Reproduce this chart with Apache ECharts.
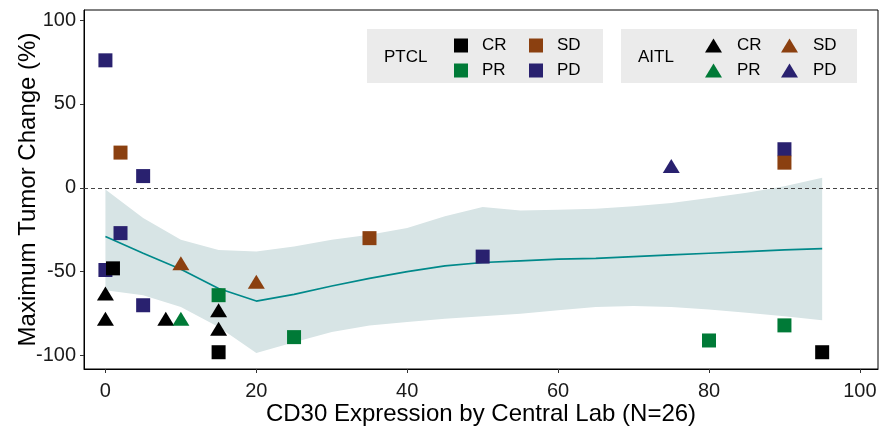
<!DOCTYPE html>
<html>
<head>
<meta charset="utf-8">
<script src="https://cdn.jsdelivr.net/npm/echarts@6/dist/echarts.min.js"></script>
<style>
html, body { margin: 0; padding: 0; background: #fff; }
#main { width: 879px; height: 430px; }
</style>
</head>
<body>
<div id="main"></div>
<script>
// PTCL patients (squares): [CD30 %, max tumor change %]
var ptcl_PD = [[0, 76], [5, 7], [2, -27], [0, -49], [5, -70], [50, -41], [90, 23]];
var ptcl_SD = [[2, 21], [35, -30], [90, 15]];
var ptcl_PR = [[15, -64], [25, -89], [80, -91], [90, -82]];
var ptcl_CR = [[1, -48], [15, -98], [95, -98]];

// AITL patients (triangles)
var aitl_CR = [[0, -63], [0, -78], [8, -78], [15, -73], [15, -84]];
var aitl_PR = [[10, -78]];
var aitl_SD = [[10, -45], [20, -56]];
var aitl_PD = [[75, 13]];

// smoother
var fit_x  = [0, 5, 10, 15, 20, 25, 30, 35, 40, 45, 50, 55, 60, 65, 70, 75, 80, 85, 90, 95];
var fit_y  = [-29, -39, -48.5, -60, -67.5, -63.5, -58.5, -54, -50, -46.5, -44.5, -43.5, -42.5, -42, -41, -40, -39, -38, -37, -36.3];
var fit_hi = [-1, -18, -31, -37, -38, -35, -31, -28, -24, -17, -11.5, -13.5, -13, -12.5, -11, -9, -6, -3, 1, 6];
var fit_lo = [-61, -64, -71, -83, -98.5, -92, -86, -82, -80, -78, -76.5, -75, -73, -71, -70.5, -71, -72.5, -74.5, -76.5, -79];

var x_ticks = [0, 20, 40, 60, 80, 100];
var y_ticks = [-100, -50, 0, 50, 100];

var colors = { CR: '#000000', PR: '#007a37', SD: '#8b4010', PD: '#29216f' };

var chart = echarts.init(document.getElementById('main'));
var font = 'Liberation Sans, Arial, sans-serif';

function sq(name, data, color) {
  return { name: name, type: 'scatter', symbol: 'rect', symbolSize: 14, data: data,
    itemStyle: { color: color, opacity: 1 }, z: 3, silent: true };
}
function tri(name, data, color) {
  return { name: name, type: 'scatter', symbol: 'triangle', symbolSize: [17, 14], data: data,
    itemStyle: { color: color, opacity: 1 }, z: 3, silent: true };
}
function legendCol(left, names, w, pad) {
  return {
    orient: 'vertical', left: left, top: 37, padding: 0, itemWidth: w, itemHeight: 14, itemGap: 8,
    selectedMode: false, data: names,
    formatter: function (n) { return n.split(' ')[1]; },
    textStyle: { fontSize: 17, color: '#000', lineHeight: 14, padding: [0, 0, 0, pad], fontFamily: font }
  };
}

chart.setOption({
  animation: false,
  textStyle: { fontFamily: font },
  grid: { left: 84, right: 1, top: 10, bottom: 61, outerBoundsMode: 'none', containLabel: false,
    show: true, borderColor: '#000', borderWidth: 1, backgroundColor: 'transparent' },
  xAxis: {
    type: 'value', min: -2.84, max: 102.4,
    name: 'CD30 Expression by Central Lab (N=26)', nameLocation: 'middle', nameGap: 33, nameMoveOverlap: false,
    nameTextStyle: { fontSize: 24, color: '#000', fontFamily: font },
    axisLine: { show: true, onZero: false, lineStyle: { color: '#000', width: 1 } },
    axisTick: { show: true, length: 4, lineStyle: { color: '#333' }, customValues: x_ticks },
    axisLabel: { fontSize: 20, color: '#1a1a1a', margin: 12, customValues: x_ticks, fontFamily: font },
    splitLine: { show: false }
  },
  yAxis: {
    type: 'value', min: -108, max: 106,
    name: 'Maximum Tumor Change (%)', nameLocation: 'middle', nameGap: 44, nameMoveOverlap: false,
    nameTextStyle: { fontSize: 24, color: '#000', fontFamily: font },
    axisLine: { show: true, onZero: false, lineStyle: { color: '#000', width: 1 } },
    axisTick: { show: true, length: 4, lineStyle: { color: '#333' }, customValues: y_ticks },
    axisLabel: { fontSize: 20, color: '#1a1a1a', margin: 8, customValues: y_ticks, fontFamily: font },
    splitLine: { show: false }
  },
  legend: [
    legendCol(454, ['PTCL CR', 'PTCL PR'], 14, 9),
    legendCol(529, ['PTCL SD', 'PTCL PD'], 14, 9),
    legendCol(705, ['AITL CR', 'AITL PR'], 17, 10),
    legendCol(781, ['AITL SD', 'AITL PD'], 17, 10)
  ],
  graphic: [
    { type: 'rect', left: 367, top: 29, z: -10, shape: { width: 236, height: 54 }, style: { fill: '#ebebeb' } },
    { type: 'rect', left: 621, top: 29, z: -10, shape: { width: 236, height: 54 }, style: { fill: '#ebebeb' } },
    { type: 'text', left: 384, top: 49, style: { text: 'PTCL', fill: '#000', font: '17px ' + font } },
    { type: 'text', left: 638, top: 49, style: { text: 'AITL', fill: '#000', font: '17px ' + font } }
  ],
  series: [
    {
      type: 'custom', silent: true, z: 1,
      data: fit_x.map(function (x, i) { return [x, fit_lo[i], fit_hi[i]]; }),
      encode: { x: 0, y: [1, 2] },
      renderItem: function (params, api) {
        if (params.dataIndex !== 0) return;
        var pts = [];
        for (var i = 0; i < fit_x.length; i++) pts.push(api.coord([fit_x[i], fit_hi[i]]));
        for (var j = fit_x.length - 1; j >= 0; j--) pts.push(api.coord([fit_x[j], fit_lo[j]]));
        return { type: 'polygon', shape: { points: pts }, style: { fill: '#d7e4e5' } };
      }
    },
    {
      type: 'line', silent: true, z: 2, showSymbol: false,
      data: fit_x.map(function (x, i) { return [x, fit_y[i]]; }),
      lineStyle: { color: '#00898a', width: 1.7 },
      markLine: {
        silent: true, symbol: 'none', label: { show: false },
        lineStyle: { color: '#444', type: [4, 3], width: 1 },
        data: [{ yAxis: 0 }]
      }
    },
    sq('PTCL PD', ptcl_PD, colors.PD),
    sq('PTCL SD', ptcl_SD, colors.SD),
    sq('PTCL PR', ptcl_PR, colors.PR),
    sq('PTCL CR', ptcl_CR, colors.CR),
    tri('AITL CR', aitl_CR, colors.CR),
    tri('AITL PR', aitl_PR, colors.PR),
    tri('AITL SD', aitl_SD, colors.SD),
    tri('AITL PD', aitl_PD, colors.PD)
  ]
});
</script>
</body>
</html>
